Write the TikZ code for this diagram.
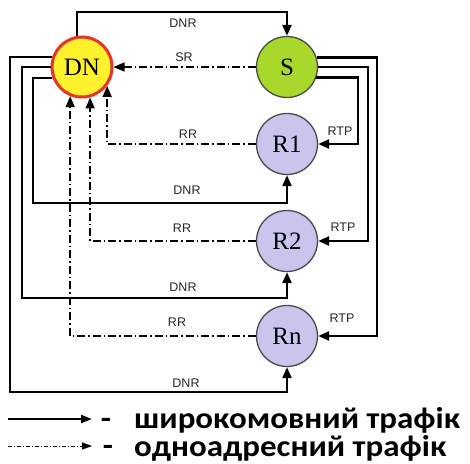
\documentclass[tikz,border=0pt]{standalone}
\usepackage{fontspec}
\setmainfont{Liberation Serif}
\newfontfamily\lblfont{Liberation Sans}
\newfontfamily\legfont[FakeStretch=1.1]{Carlito}
\usetikzlibrary{arrows.meta,calc}
\definecolor{dnfill}{HTML}{FFF22C}
\definecolor{dnline}{HTML}{E5352B}
\definecolor{sfill}{HTML}{A8D82C}
\definecolor{rfill}{HTML}{C9C5EC}
\definecolor{cline}{HTML}{4A4A4A}
\begin{document}
\begin{tikzpicture}[x=1pt,y=-1pt,
  bc/.style={line width=2.4pt, -{Triangle[length=11pt,width=9pt]}},
  uc/.style={line width=1.5pt, dash pattern=on 8pt off 3pt on 1.5pt off 3pt, -{Triangle[length=11pt,width=9pt]}},
  lbl/.style={font=\lblfont\fontsize{12.5}{13}\selectfont, text=black!85, inner sep=0},
  nd/.style={circle, minimum size=61pt, inner sep=0, font=\fontsize{25}{25}\selectfont, line width=1.3pt, draw=cline},
  leg/.style={font=\legfont\bfseries\fontsize{30}{30}\selectfont, inner sep=0}
]
\useasboundingbox (0,0) rectangle (470,463);
\fill[white] (0,0) rectangle (470,463);

% nodes
\node[nd, draw=dnline, line width=3pt, fill=dnfill, minimum size=60pt] (DN) at (82,67) {DN};
\node[nd, fill=sfill] (S) at (287,67) {S};
\node[nd, fill=rfill] (R1) at (287,144) {R1};
\node[nd, fill=rfill] (R2) at (287,241) {R2};
\node[nd, fill=rfill] (Rn) at (287,336) {Rn};

% broadcast DN -> S
\draw[bc] (DN.99) |- (150,12) -| (S.north);
% unicast S -> DN
\draw[uc] (S.west) -- (DN.east);

% broadcast DN -> R1, R2, Rn
\draw[bc] (DN.200) -| (33,203) -| (R1.south);
\draw[bc] (DN.180) -| (22,298) -| (R2.south);
\draw[bc] (DN.161) -| (10,392) -| (Rn.south);

% RTP S -> R1, R2, Rn
\draw[bc] (S.340) -| ($(R1.east)+(40,0)$) -- (R1.east);
\draw[bc] (S.0) -| ($(R2.east)+(50,0)$) -- (R2.east);
\draw[bc] (S.18) -| ($(Rn.east)+(59,0)$) -- (Rn.east);

% RR unicast R -> DN
\draw[uc] (R1.west) -| (DN.323);
\draw[uc] (R2.west) -| (DN.285);
\draw[uc] (Rn.west) -| (DN.248);

% labels
\node[lbl] (l1) at (183,23) {DNR};
\node[lbl] (l2) at (184,57) {SR};
\node[lbl] (l3) at (188,134) {RR};
\node[lbl] (l4) at (187,190) {DNR};
\node[lbl] (l5) at (182,228) {RR};
\node[lbl] (l6) at (183,287) {DNR};
\node[lbl] (l7) at (177,322) {RR};
\node[lbl] (l8) at (186,383) {DNR};
\node[lbl] (l9) at (340,131) {RTP};
\node[lbl] (l10) at (343,227) {RTP};
\node[lbl] (l11) at (342,318) {RTP};

% legend
\coordinate (la1) at (8,419);
\coordinate (lb1) at (92,419);
\coordinate (la2) at (8,446);
\coordinate (lb2) at (92,446);
\draw[line width=2.4pt, -{Triangle[length=11pt,width=8pt]}] (la1) -- (lb1);
\draw[line width=1pt, dash pattern=on 4pt off 2pt on 1pt off 2pt, -{Triangle[length=10pt,width=7pt]}] (la2) -- (lb2);
\node[leg, anchor=base] (d1) at (106,428) {-};
\node[leg, anchor=base] (d2) at (108,455) {-};
\node[leg, anchor=base west] (t1) at (134,428) {широкомовний трафік};
\node[leg, anchor=base west] (t2) at (134,456) {одноадресний трафік};
\end{tikzpicture}
\end{document}
